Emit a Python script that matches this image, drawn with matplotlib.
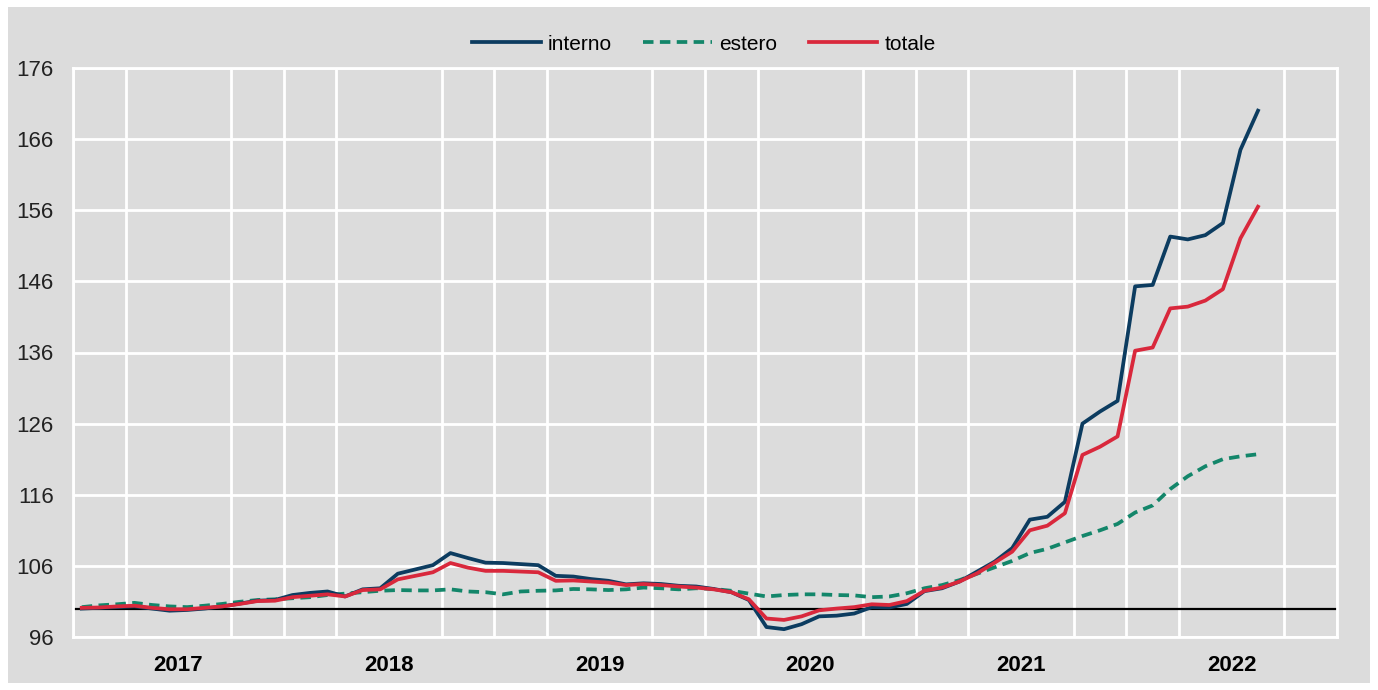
import numpy as np
import matplotlib
matplotlib.use("Agg")
import matplotlib.pyplot as plt
from matplotlib.patches import Rectangle
from matplotlib import font_manager

# ---- data (monthly index, Jan 2017 - Aug 2022) ----
years = ["2017", "2018", "2019", "2020", "2021", "2022"]
yticks = [96, 106, 116, 126, 136, 146, 156, 166, 176]

interno = [100.0, 100.1, 100.2, 100.3, 100.0, 99.7, 99.8, 100.0, 100.3, 100.7, 101.1, 101.2,
           101.9, 102.2, 102.4, 101.7, 102.7, 102.85, 104.9, 105.5, 106.1, 107.8, 107.1, 106.45,
           106.4, 106.25, 106.1, 104.6, 104.5, 104.15, 103.9, 103.4, 103.55, 103.45, 103.2, 103.1,
           102.75, 102.3, 101.2, 97.4, 97.1, 97.8, 98.9, 99.0, 99.3, 100.2, 100.15, 100.65,
           102.45, 102.85, 103.8, 105.2, 106.6, 108.5, 112.5, 112.9, 115.0, 126.0, 127.7, 129.2,
           145.3, 145.5, 152.3, 151.9, 152.5, 154.2, 164.5, 170.0]
estero = [100.2, 100.45, 100.6, 100.8, 100.5, 100.3, 100.2, 100.4, 100.65, 100.95, 101.2, 101.3,
          101.45, 101.6, 101.9, 102.1, 102.3, 102.5, 102.6, 102.55, 102.55, 102.7, 102.4, 102.3,
          102.0, 102.4, 102.5, 102.55, 102.75, 102.7, 102.6, 102.7, 102.95, 102.85, 102.7, 102.85,
          102.75, 102.5, 102.1, 101.7, 101.9, 102.0, 102.0, 101.9, 101.85, 101.6, 101.7, 102.15,
          102.85, 103.3, 104.0, 104.9, 105.8, 106.7, 107.8, 108.4, 109.3, 110.2, 111.0, 111.9,
          113.5, 114.5, 116.8, 118.6, 120.0, 121.0, 121.4, 121.7]
totale = [100.1, 100.15, 100.3, 100.4, 100.1, 99.9, 99.9, 100.1, 100.3, 100.65, 101.05, 101.1,
          101.6, 101.8, 102.0, 101.7, 102.6, 102.7, 104.1, 104.6, 105.1, 106.4, 105.75, 105.3,
          105.3, 105.2, 105.1, 103.9, 103.95, 103.8, 103.65, 103.3, 103.45, 103.3, 103.1, 102.95,
          102.7, 102.3, 101.3, 98.6, 98.4, 98.9, 99.75, 100.0, 100.2, 100.6, 100.5, 101.05,
          102.5, 102.95, 103.8, 104.95, 106.45, 108.0, 111.0, 111.65, 113.4, 121.6, 122.75, 124.2,
          136.25, 136.7, 142.2, 142.45, 143.3, 144.9, 152.05, 156.5]
baseline = 100

# ---- fonts ----
avail = {f.name for f in font_manager.fontManager.ttflist}
fam = [f for f in ["Liberation Sans Narrow", "Liberation Sans", "DejaVu Sans"] if f in avail]
plt.rcParams["font.family"] = fam

BG = "#dcdcdc"
C_INT = "#0c3c60"
C_EST = "#13866a"
C_TOT = "#d9283c"

fig = plt.figure(figsize=(13.78, 6.90), dpi=100, facecolor="white")
fig.patches.append(Rectangle((8 / 1378, 7 / 690), (1370 - 8) / 1378, (683 - 7) / 690,
                             transform=fig.transFigure, facecolor=BG, edgecolor="none", zorder=-10))

ax = fig.add_axes([73 / 1378, 1 - 637 / 690, (1337 - 73) / 1378, (637 - 68) / 690])
ax.set_facecolor(BG)

n_months = len(years) * 12
x = np.arange(len(interno)) + 0.5

ax.axhline(baseline, color="black", lw=1.6, zorder=2)
ax.plot(x, interno, color=C_INT, lw=2.7, label="interno", zorder=4)
ax.plot(x, estero, color=C_EST, lw=2.7, ls=(0, (2.8, 1.7)), label="estero", zorder=3)
ax.plot(x, totale, color=C_TOT, lw=2.7, label="totale", zorder=5)

ax.set_xlim(0, n_months)
ax.set_ylim(yticks[0], yticks[-1])
ax.set_yticks(yticks)
ax.set_yticklabels([str(t) for t in yticks])

# year labels as major ticks, quarterly gridlines as minor ticks
ax.set_xticks(np.arange(6, n_months, 12))
ax.set_xticklabels(years, fontweight="bold", fontsize=16)
ax.set_xticks(np.arange(0, n_months + 1, 3), minor=True)

ax.xaxis.grid(True, which="minor", color="white", lw=2.0, zorder=1)
ax.xaxis.grid(False, which="major")
ax.yaxis.grid(True, which="major", color="white", lw=2.0, zorder=1)
ax.set_axisbelow(True)
ax.tick_params(axis="both", which="both", length=0)
ax.tick_params(axis="x", which="major", pad=13)
ax.tick_params(axis="y", pad=14, labelsize=16, labelcolor="#222222")
for s in ax.spines.values():
    s.set_color("white")
    s.set_linewidth(2.0)

fig.legend(loc="center", bbox_to_anchor=(704 / 1378, 1 - 44 / 690), ncol=3, frameon=False,
           fontsize=15, handlelength=3.3, handletextpad=0.35, columnspacing=1.5)

fig.savefig("out.png", dpi=100, facecolor="white")
